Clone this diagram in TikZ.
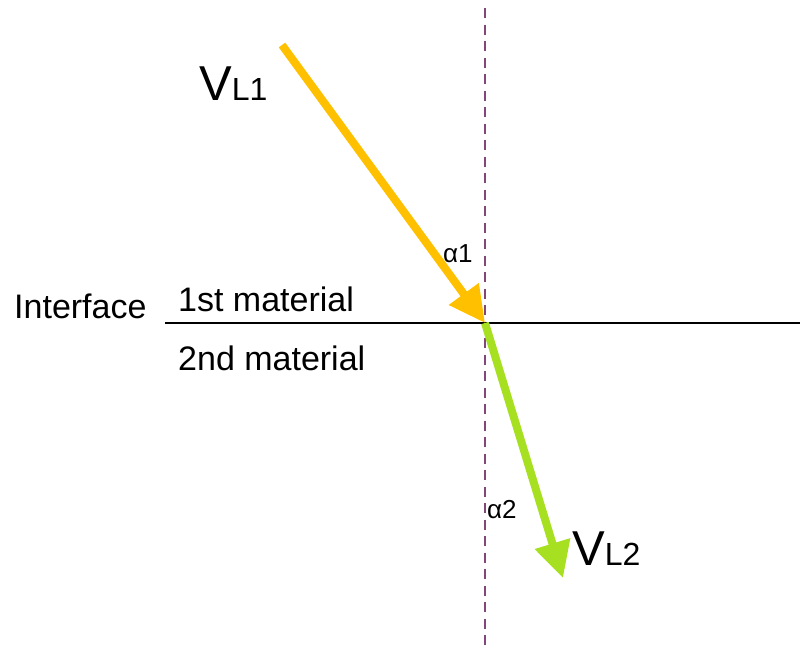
\documentclass[tikz,border=0pt]{standalone}
\usepackage{fontspec}
\setmainfont{Liberation Sans}
\usetikzlibrary{arrows.meta}
\definecolor{ray1}{RGB}{255,192,0}
\definecolor{ray2}{RGB}{166,224,32}
\definecolor{normalc}{RGB}{130,70,120}
\tikzset{
  lbl/.style={inner sep=0pt, anchor=base west, text=black},
  rayarrow/.style={line width=8pt, -{Triangle[length=36pt,width=35pt]}},
}
\begin{document}
\begin{tikzpicture}[x=1pt,y=-1pt]
\useasboundingbox (0,0) rectangle (800,649);
\coordinate (o) at (485,323);
\coordinate (ntop) at (485,8);
\coordinate (nbot) at (485,648);
\coordinate (ileft) at (165,323);
\coordinate (iright) at (800,323);
\coordinate (s1) at (282,45);
\coordinate (e2) at (563,578);
% normal
\draw[normalc, line width=1.8pt, dash pattern=on 10pt off 6.5pt] (ntop) -- (nbot);
% interface
\draw[black, line width=2pt] (ileft) -- (iright);
% rays
\draw[ray1, rayarrow] (s1) -- (o);
\draw[ray2, rayarrow] (o) -- (e2);
% labels
\node[lbl] (vl1) at (199,100) {\fontsize{49}{49}\selectfont V\fontsize{32}{32}\selectfont L1};
\node[lbl] (vl2) at (572,565) {\fontsize{49}{49}\selectfont V\fontsize{32}{32}\selectfont L2};
\node[lbl] (a1) at (443,262) {\fontsize{26}{26}\selectfont α1};
\node[lbl] (a2) at (487,518) {\fontsize{26}{26}\selectfont α2};
\node[lbl] (intf) at (14,318) {\fontsize{34}{34}\selectfont Interface};
\node[lbl] (m1) at (178,311) {\fontsize{34}{34}\selectfont 1st material};
\node[lbl] (m2) at (178,370) {\fontsize{34}{34}\selectfont 2nd material};
\end{tikzpicture}
\end{document}
